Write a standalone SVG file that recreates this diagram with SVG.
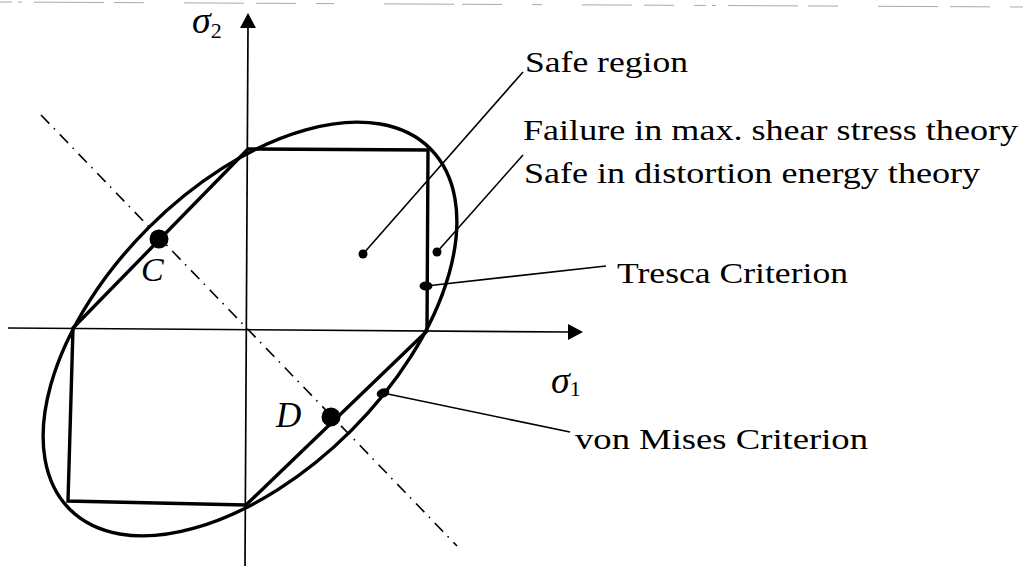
<svg xmlns="http://www.w3.org/2000/svg" width="1023" height="566" viewBox="0 0 1023 566">
<style>
.txt{font-family:"Liberation Serif","Times New Roman",serif;font-size:30px;fill:#000}
.ital{font-family:"Liberation Serif","Times New Roman",serif;font-style:italic;fill:#000}
.sub{font-family:"Liberation Serif","Times New Roman",serif;font-style:normal;font-size:22px}
.axis{stroke:#000;stroke-width:1.7;fill:none}
.thick{stroke:#000;stroke-width:3.4;fill:none;stroke-linejoin:miter}
.leader{stroke:#000;stroke-width:1.6;fill:none}
.dashdot{stroke:#000;stroke-width:1.6;fill:none;stroke-dasharray:12 6.5 1.5 7}
.dot{fill:#000}
</style>
<rect width="1023" height="566" fill="#fff"/>
<g id="scan-edge">
<path d="M0,2 L1023,7" stroke="#aaa" stroke-width="1" fill="none" stroke-dasharray="12 6 4 12 70 10 30 40 60 12 40 20 18 50 70 8 40 30 10 40 50 12 30 20"/>
</g>
<g id="axes">
<line class="axis" x1="248" y1="26" x2="245" y2="566"/>
<polygon points="248,13 240,28 256,28" fill="#000"/>
<line class="axis" x1="8" y1="328" x2="570" y2="332"/>
<polygon points="583,332 568,324 568,340" fill="#000"/>
<text class="ital" x="192" y="33" font-size="38">σ<tspan class="sub" dy="5">2</tspan></text>
<text class="ital" x="551" y="393" font-size="38">σ<tspan class="sub" dy="3">1</tspan></text>
</g>
<g id="dashdot-line">
<line class="dashdot" x1="41" y1="115" x2="457" y2="546"/>
</g>
<g id="von-mises">
<ellipse class="thick" cx="250" cy="329" rx="255" ry="143.4" transform="rotate(-45 250 329)"/>
</g>
<g id="tresca">
<path class="thick" d="M248,149 L428,150 L427,331 L246,505 L68,501 L73,328 Z"/>
</g>
<g id="point-C">
<circle class="dot" cx="159" cy="239" r="9.5"/>
<text class="ital" x="141" y="281" font-size="34">C</text>
</g>
<g id="point-D">
<circle class="dot" cx="331" cy="417" r="9.5"/>
<text class="ital" x="276" y="427" font-size="35">D</text>
</g>
<g id="connectors">
<line class="leader" x1="363" y1="254" x2="523" y2="72"/>
<line class="leader" x1="437" y1="252" x2="523" y2="155"/>
<line class="leader" x1="426" y1="286" x2="606" y2="266"/>
<line class="leader" x1="383" y1="393" x2="570" y2="432"/>
<circle class="dot" cx="363" cy="254" r="4.5"/>
<circle class="dot" cx="437" cy="252" r="4.5"/>
<ellipse class="dot" cx="426" cy="286" rx="6.5" ry="4.5"/>
<ellipse class="dot" cx="383" cy="393" rx="6.5" ry="4.5" transform="rotate(-20 383 393)"/>
</g>
<g id="label-safe-region">
<text class="txt" x="525" y="72" textLength="163" lengthAdjust="spacingAndGlyphs">Safe region</text>
</g>
<g id="label-failure">
<text class="txt" x="523" y="140" textLength="495" lengthAdjust="spacingAndGlyphs">Failure in max. shear stress theory</text>
<text class="txt" x="524" y="183" textLength="456" lengthAdjust="spacingAndGlyphs">Safe in distortion energy theory</text>
</g>
<g id="label-tresca">
<text class="txt" x="617" y="283" textLength="231" lengthAdjust="spacingAndGlyphs">Tresca Criterion</text>
</g>
<g id="label-von-mises">
<text class="txt" x="575" y="449" textLength="293" lengthAdjust="spacingAndGlyphs">von Mises Criterion</text>
</g>
</svg>
